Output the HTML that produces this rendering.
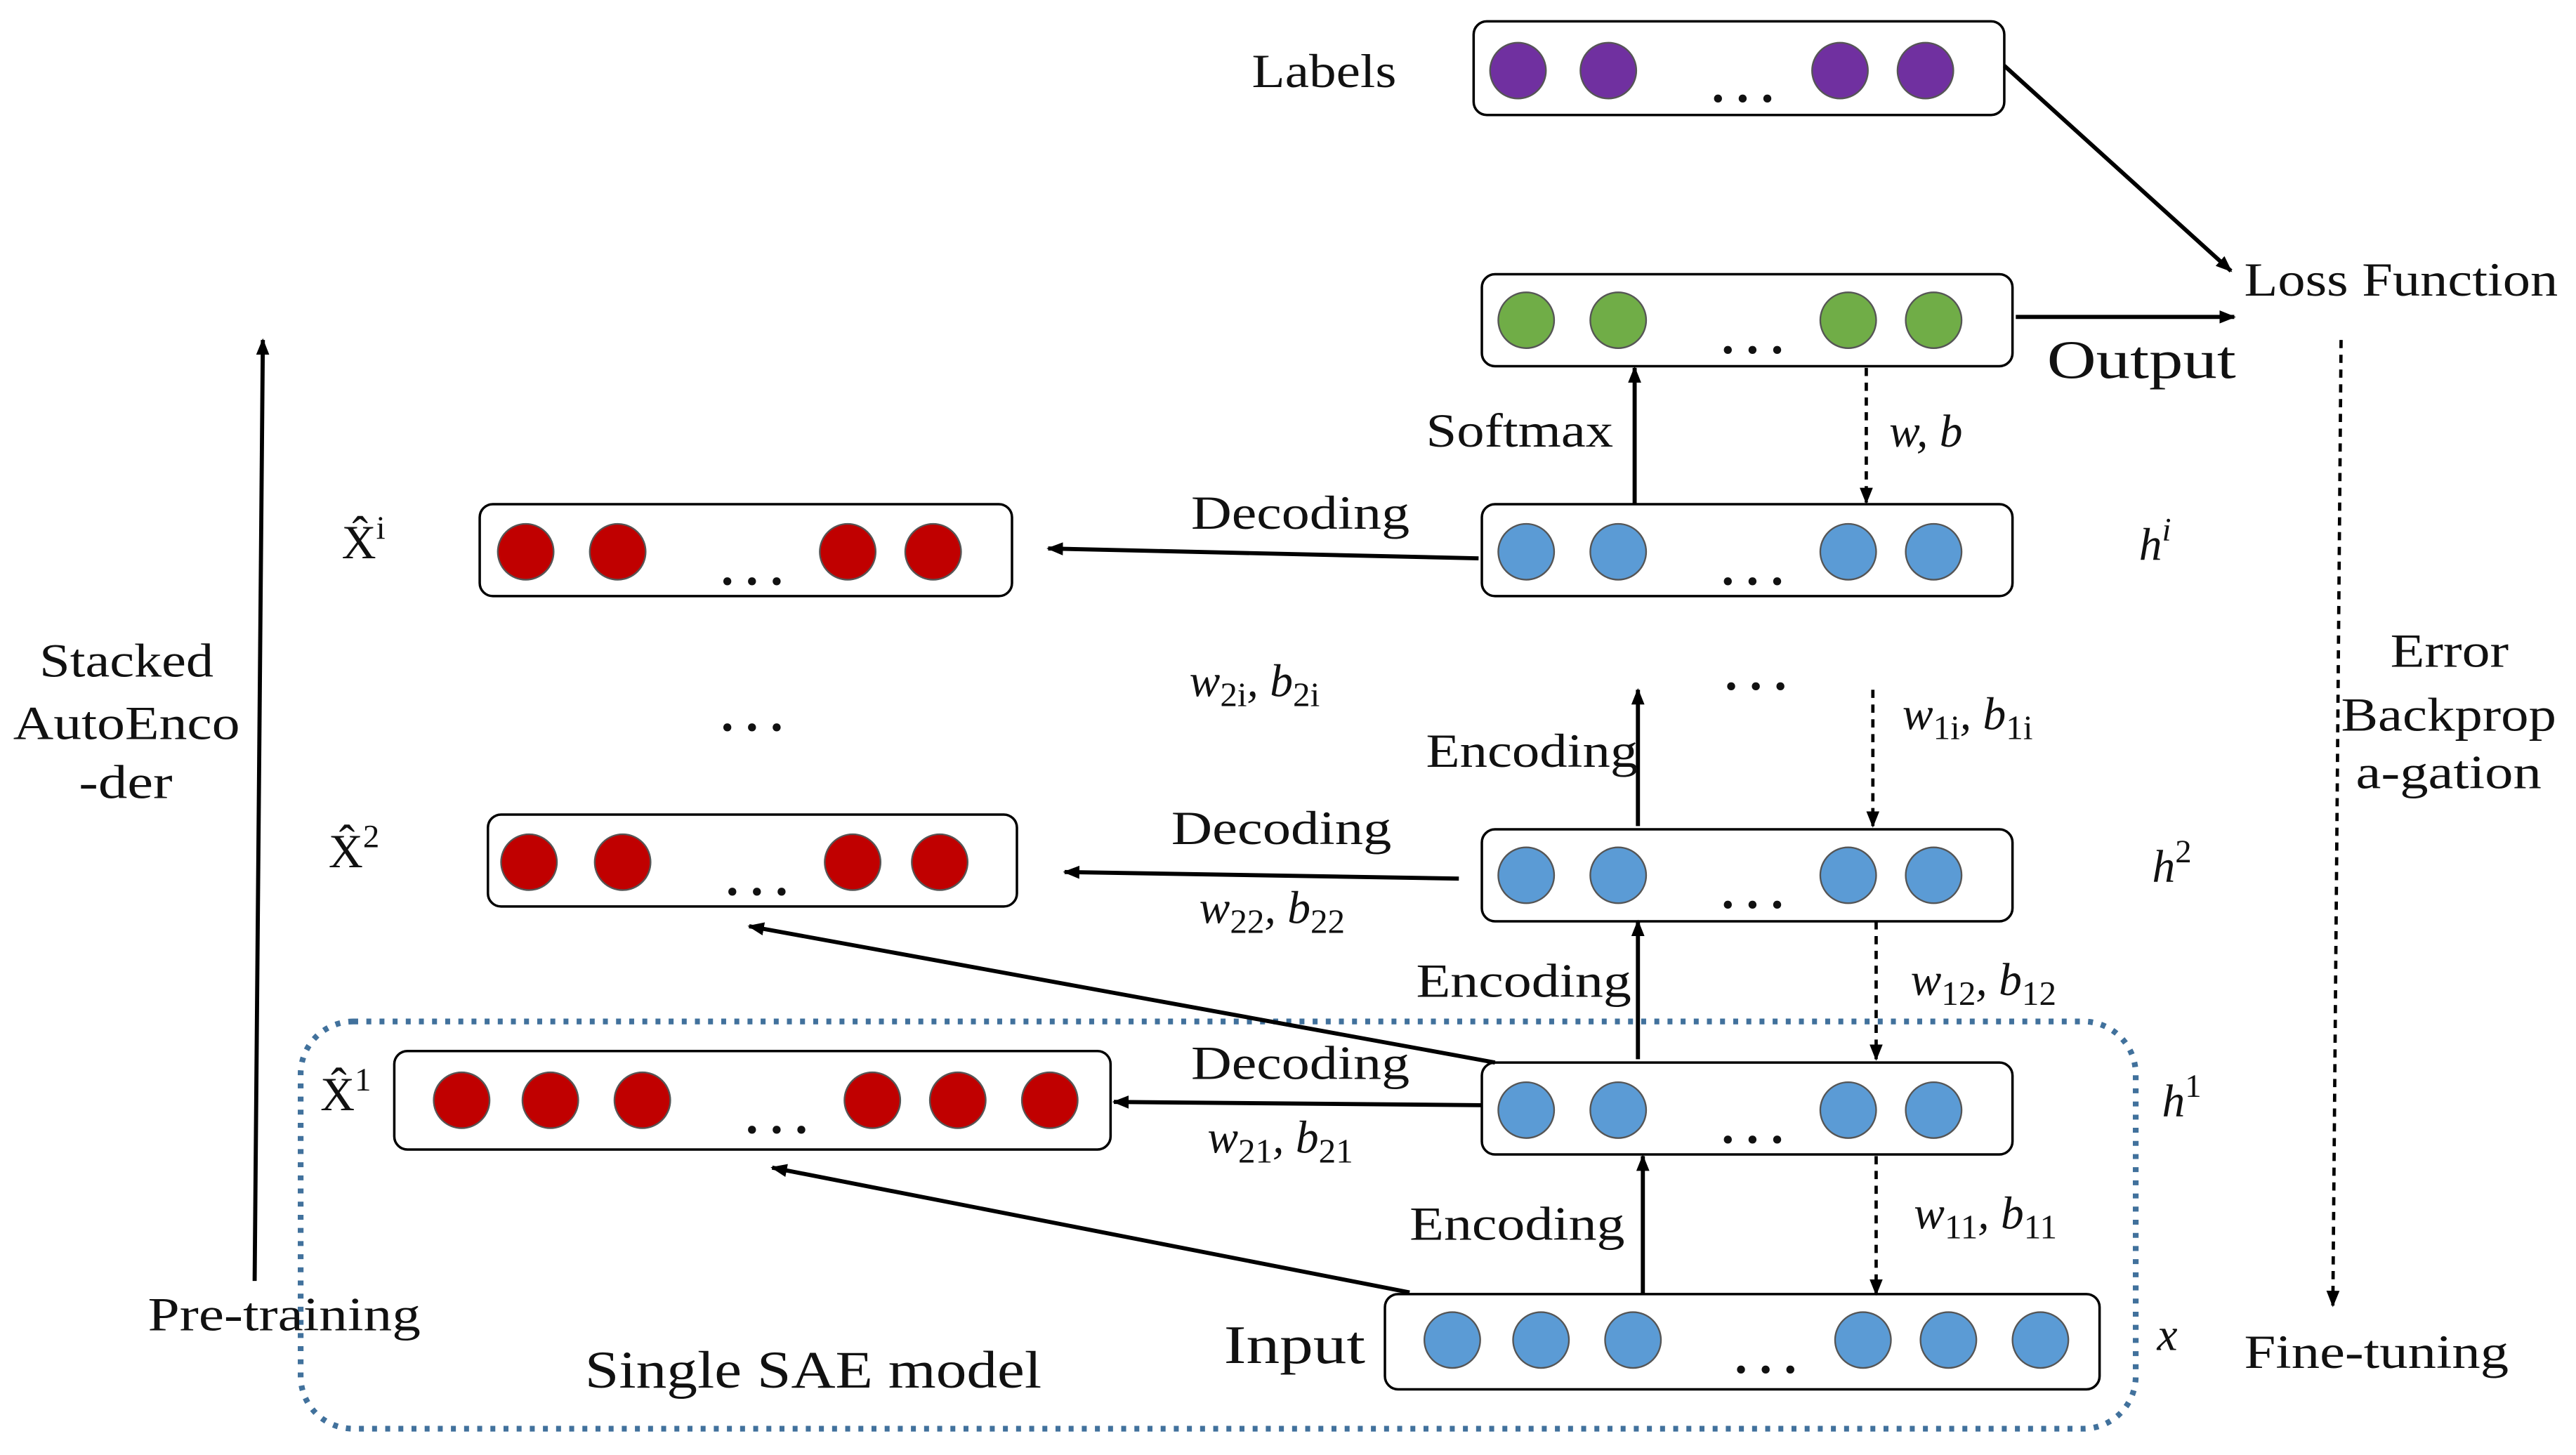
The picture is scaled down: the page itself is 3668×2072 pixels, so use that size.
<!DOCTYPE html>
<html><head><meta charset="utf-8">
<style>
html,body{margin:0;padding:0;background:#fff;}
svg{display:block;}
text{font-family:"Liberation Serif",serif;fill:#111;}
</style></head>
<body>
<svg width="3668" height="2072" viewBox="0 0 1568 886" preserveAspectRatio="none" xmlns="http://www.w3.org/2000/svg">
<defs>
<marker id="a" markerWidth="10" markerHeight="10" refX="9" refY="5" orient="auto" markerUnits="userSpaceOnUse">
<path d="M0,1 L10,5 L0,9 Z" fill="#000"/>
</marker>
</defs>
<g stroke="#000" stroke-width="1.5" fill="#fff">
<rect x="897" y="13" width="323" height="57" rx="8"/>
<rect x="902" y="167" width="323" height="56" rx="8"/>
<rect x="902" y="307" width="323" height="56" rx="8"/>
<rect x="902" y="505" width="323" height="56" rx="8"/>
<rect x="902" y="647" width="323" height="56" rx="8"/>
<rect x="843" y="788" width="435" height="58" rx="8"/>
<rect x="292" y="307" width="324" height="56" rx="8"/>
<rect x="297" y="496" width="322" height="56" rx="8"/>
<rect x="240" y="640" width="436" height="60" rx="8"/>
</g>
<rect x="183" y="622" width="1117" height="248" rx="32" fill="none" stroke="#41719c" stroke-width="3.5" stroke-dasharray="3,5"/>
<g stroke-width="1" stroke="#555">
<g fill="#7030a0"><circle cx="924" cy="43" r="17"/><circle cx="979" cy="43" r="17"/><circle cx="1120" cy="43" r="17"/><circle cx="1172" cy="43" r="17"/></g>
<g fill="#70ad47"><circle cx="929" cy="195" r="17"/><circle cx="985" cy="195" r="17"/><circle cx="1125" cy="195" r="17"/><circle cx="1177" cy="195" r="17"/></g>
<g fill="#5b9bd5">
<circle cx="929" cy="336" r="17"/><circle cx="985" cy="336" r="17"/><circle cx="1125" cy="336" r="17"/><circle cx="1177" cy="336" r="17"/>
<circle cx="929" cy="533" r="17"/><circle cx="985" cy="533" r="17"/><circle cx="1125" cy="533" r="17"/><circle cx="1177" cy="533" r="17"/>
<circle cx="929" cy="676" r="17"/><circle cx="985" cy="676" r="17"/><circle cx="1125" cy="676" r="17"/><circle cx="1177" cy="676" r="17"/>
<circle cx="884" cy="816" r="17"/><circle cx="938" cy="816" r="17"/><circle cx="994" cy="816" r="17"/><circle cx="1134" cy="816" r="17"/><circle cx="1186" cy="816" r="17"/><circle cx="1242" cy="816" r="17"/>
</g>
<g fill="#c00000">
<circle cx="320" cy="336" r="17"/><circle cx="376" cy="336" r="17"/><circle cx="516" cy="336" r="17"/><circle cx="568" cy="336" r="17"/>
<circle cx="322" cy="525" r="17"/><circle cx="379" cy="525" r="17"/><circle cx="519" cy="525" r="17"/><circle cx="572" cy="525" r="17"/>
<circle cx="281" cy="670" r="17"/><circle cx="335" cy="670" r="17"/><circle cx="391" cy="670" r="17"/><circle cx="531" cy="670" r="17"/><circle cx="583" cy="670" r="17"/><circle cx="639" cy="670" r="17"/>
</g>
</g>
<g font-size="30" font-weight="bold">
<text x="1042" y="62">. . .</text>
<text x="1048" y="215">. . .</text>
<text x="1048" y="356">. . .</text>
<text x="1048" y="553">. . .</text>
<text x="1048" y="696">. . .</text>
<text x="1056" y="836">. . .</text>
<text x="439" y="356">. . .</text>
<text x="442" y="545">. . .</text>
<text x="454" y="690">. . .</text>
<text x="439" y="445">. . .</text>
<text x="1050" y="420">. . .</text>
</g>
<g stroke="#000" stroke-width="2.5" fill="none" marker-end="url(#a)">
<line x1="1220" y1="40" x2="1358" y2="165"/>
<line x1="1227" y1="193" x2="1360" y2="193"/>
<line x1="995" y1="307" x2="995" y2="224"/>
<line x1="900" y1="340" x2="638" y2="334"/>
<line x1="997" y1="503" x2="997" y2="420"/>
<line x1="888" y1="535" x2="648" y2="531"/>
<line x1="997" y1="645" x2="997" y2="561"/>
<line x1="910" y1="647" x2="456" y2="564"/>
<line x1="902" y1="673" x2="678" y2="671"/>
<line x1="1000" y1="788" x2="1000" y2="704"/>
<line x1="858" y1="787" x2="470" y2="711"/>
<line x1="155" y1="780" x2="160" y2="207"/>
</g>
<g stroke="#000" stroke-width="2" fill="none" stroke-dasharray="5,4" marker-end="url(#a)">
<line x1="1136" y1="224" x2="1136" y2="306"/>
<line x1="1140" y1="420" x2="1140" y2="503"/>
<line x1="1142" y1="561" x2="1142" y2="645"/>
<line x1="1142" y1="704" x2="1142" y2="788"/>
<line x1="1425" y1="207" x2="1420" y2="795"/>
</g>
<g font-size="29" lengthAdjust="spacingAndGlyphs">
<text x="762" y="53" textLength="88" lengthAdjust="spacingAndGlyphs">Labels</text>
<text x="1366" y="180" textLength="191" lengthAdjust="spacingAndGlyphs">Loss Function</text>
<text x="1246" y="230" font-size="33" textLength="115" lengthAdjust="spacingAndGlyphs">Output</text>
<text x="868" y="272" textLength="114" lengthAdjust="spacingAndGlyphs">Softmax</text>
<text x="725" y="322" textLength="133" lengthAdjust="spacingAndGlyphs">Decoding</text>
<text x="713" y="514" textLength="134" lengthAdjust="spacingAndGlyphs">Decoding</text>
<text x="725" y="657" textLength="133" lengthAdjust="spacingAndGlyphs">Decoding</text>
<text x="868" y="467" textLength="129" lengthAdjust="spacingAndGlyphs">Encoding</text>
<text x="862" y="607" textLength="131" lengthAdjust="spacingAndGlyphs">Encoding</text>
<text x="858" y="755" textLength="131" lengthAdjust="spacingAndGlyphs">Encoding</text>
<text x="745" y="830" font-size="33" textLength="86" lengthAdjust="spacingAndGlyphs">Input</text>
<text x="356" y="845" font-size="32" textLength="278" lengthAdjust="spacingAndGlyphs">Single SAE model</text>
<text x="90" y="810" textLength="166" lengthAdjust="spacingAndGlyphs">Pre-training</text>
<text x="1366" y="833" textLength="161" lengthAdjust="spacingAndGlyphs">Fine-tuning</text>
<text x="24" y="412" textLength="106" lengthAdjust="spacingAndGlyphs">Stacked</text>
<text x="8" y="450" textLength="138" lengthAdjust="spacingAndGlyphs">AutoEnco</text>
<text x="48" y="486" textLength="57" lengthAdjust="spacingAndGlyphs">-der</text>
<text x="1455" y="406" textLength="72" lengthAdjust="spacingAndGlyphs">Error</text>
<text x="1425" y="445" textLength="131" lengthAdjust="spacingAndGlyphs">Backprop</text>
<text x="1434" y="480" textLength="113" lengthAdjust="spacingAndGlyphs">a-gation</text>
<text x="208" y="340">X̂<tspan font-size="20" dy="-12">i</tspan></text>
<text x="200" y="528">X̂<tspan font-size="20" dy="-12">2</tspan></text>
<text x="195" y="676">X̂<tspan font-size="20" dy="-12">1</tspan></text>
</g>
<g font-size="28" font-style="italic">
<text x="1150" y="272">w, b</text>
<text x="1302" y="341">h<tspan font-size="20" dy="-12">i</tspan></text>
<text x="1310" y="537">h<tspan font-size="20" dy="-12" font-style="normal">2</tspan></text>
<text x="1316" y="680">h<tspan font-size="20" dy="-12" font-style="normal">1</tspan></text>
<text x="1313" y="822">x</text>
<text x="724" y="424">w<tspan font-size="21" dy="6" font-style="normal">2i</tspan><tspan dy="-6">, b</tspan><tspan font-size="21" dy="6" font-style="normal">2i</tspan></text>
<text x="1158" y="444">w<tspan font-size="21" dy="6" font-style="normal">1i</tspan><tspan dy="-6">, b</tspan><tspan font-size="21" dy="6" font-style="normal">1i</tspan></text>
<text x="730" y="562">w<tspan font-size="21" dy="6" font-style="normal">22</tspan><tspan dy="-6">, b</tspan><tspan font-size="21" dy="6" font-style="normal">22</tspan></text>
<text x="1163" y="606">w<tspan font-size="21" dy="6" font-style="normal">12</tspan><tspan dy="-6">, b</tspan><tspan font-size="21" dy="6" font-style="normal">12</tspan></text>
<text x="735" y="702">w<tspan font-size="21" dy="6" font-style="normal">21</tspan><tspan dy="-6">, b</tspan><tspan font-size="21" dy="6" font-style="normal">21</tspan></text>
<text x="1165" y="748">w<tspan font-size="21" dy="6" font-style="normal">11</tspan><tspan dy="-6">, b</tspan><tspan font-size="21" dy="6" font-style="normal">11</tspan></text>
</g>
</svg>
</body></html>
